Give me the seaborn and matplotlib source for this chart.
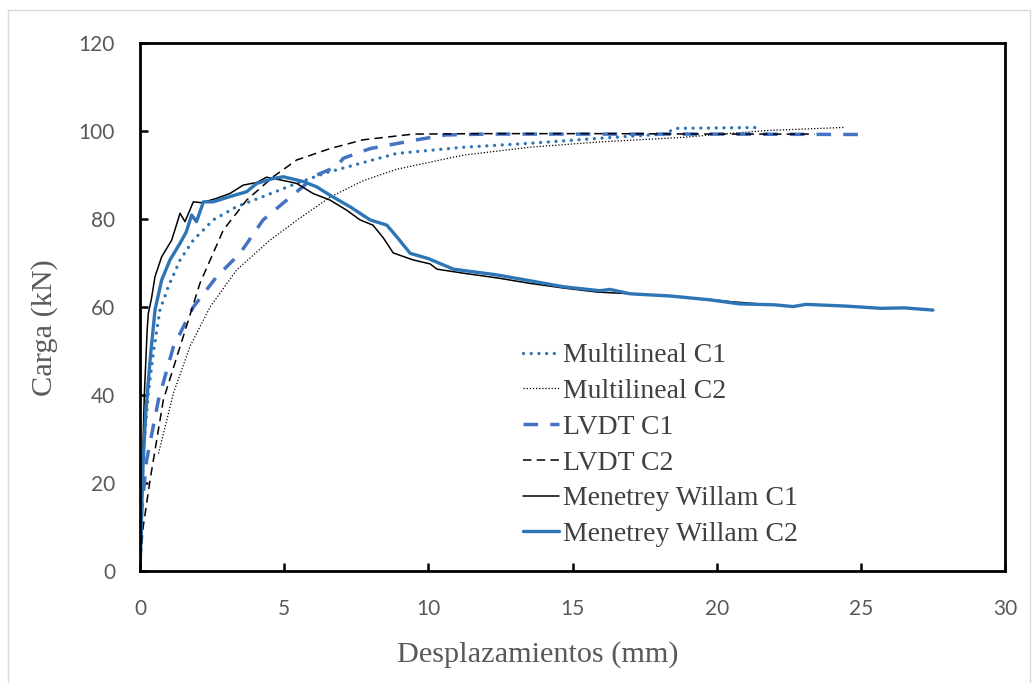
import matplotlib
matplotlib.use("Agg")
import matplotlib.pyplot as plt
import seaborn as sns
import numpy as np
from matplotlib.patches import Rectangle

# ---------------- data ----------------
ml_c1_x = [0, 0.05, 0.11, 0.29, 0.46, 0.69, 0.98, 1.39, 1.85, 2.54, 3.35, 4.27, 5.43, 6.5, 8.9, 11.2, 13.5, 15.84, 18.15, 18.6, 20.0, 21.5]
ml_c1_y = [0, 14, 26.7, 40.4, 49.5, 59.3, 64.6, 70.7, 75.2, 79.8, 82.8, 85.1, 88.1, 90.6, 94.9, 96.3, 97.2, 98.3, 99.3, 100.6, 100.7, 100.8]

ml_c2_x = [0.64, 1.16, 1.73, 2.43, 3.35, 4.51, 5.5, 6.6, 7.74, 8.9, 11.2, 13.5, 15.9, 18.7, 21.7, 24.4]
ml_c2_y = [26.7, 40.4, 51.0, 60.0, 68.4, 75.2, 80.0, 85.0, 88.7, 91.3, 94.5, 96.3, 97.5, 98.5, 100.1, 100.8]

lv_c1_x = [0, 0.06, 0.23, 0.64, 1.16, 1.85, 2.66, 3.47, 4.27, 5.09, 6.13, 6.82, 7.05, 7.98, 9.6, 10.6, 12, 15, 20, 25.1]
lv_c1_y = [0, 13.9, 25.2, 38.9, 51.0, 60.0, 66.9, 72.2, 79.8, 84.3, 90.0, 91.9, 93.8, 96.0, 98.0, 99.1, 99.3, 99.3, 99.3, 99.2]

lv_c2_x = [0, 0.11, 0.35, 0.81, 1.39, 2.08, 2.89, 3.7, 4.62, 5.43, 6.59, 7.74, 9.48, 12, 16, 20, 23.4]
lv_c2_y = [0, 10, 20.7, 38.9, 51.0, 65.4, 77.5, 84.3, 89.6, 93.4, 96.0, 98.0, 99.3, 99.4, 99.4, 99.3, 99.3]

mw_c1_x = [0, 0.06, 0.15, 0.25, 0.29, 0.4, 0.52, 0.75, 1.1, 1.39, 1.56, 1.85, 2.14, 2.66, 3.12, 3.58, 4.05, 4.39,
           4.86, 5.43, 6.0, 6.59, 7.17, 7.63, 8.08, 8.44, 8.78, 9.47, 10.06, 10.3, 11.2, 12.4, 13.5, 14.7, 15.85,
           17.0, 18.7, 19.8, 20.5, 21.5, 22.6]
mw_c1_y = [0, 18, 40, 55, 58.6, 62, 66.9, 71.4, 75.2, 81.3, 79.4, 83.9, 83.7, 84.7, 85.8, 87.7, 88.3, 89.5,
           88.9, 88.1, 85.8, 84.3, 82.0, 79.8, 78.6, 75.7, 72.3, 70.7, 69.8, 68.6, 67.7, 66.6, 65.4, 64.3, 63.4,
           63.0, 62.3, 61.7, 61.2, 60.7, 60.2]

mw_c2_x = [0, 0.05, 0.11, 0.2, 0.35, 0.52, 0.75, 1.04, 1.39, 1.6, 1.79, 1.96, 2.2, 2.54, 3.12, 3.7, 4.05, 4.62,
           4.97, 5.67, 6.13, 6.59, 7.28, 7.98, 8.56, 8.9, 9.37, 10.0, 10.4, 10.87, 12.37, 13.5, 14.68, 15.95,
           16.3, 17.0, 18.4, 19.8, 20.8, 22.0, 22.65, 23.1, 24.5, 25.7, 26.5, 27.5]
mw_c2_y = [0, 12, 25, 36, 48, 59.3, 66.1, 70.7, 74.5, 77, 80.9, 79.4, 83.9, 83.9, 85.1, 86.2, 88.1, 89.2,
           89.6, 88.5, 87.3, 85.4, 82.8, 79.8, 78.6, 76.0, 72.2, 71.0, 69.9, 68.6, 67.3, 66.0, 64.6, 63.7,
           64.0, 63.0, 62.5, 61.6, 60.7, 60.5, 60.1, 60.6, 60.2, 59.7, 59.8, 59.3]

labels = ["Multilineal C1", "Multilineal C2", "LVDT C1", "LVDT C2",
          "Menetrey Willam C1", "Menetrey Willam C2"]
x_ticks = [0, 5, 10, 15, 20, 25, 30]
y_ticks = [0, 20, 40, 60, 80, 100, 120]

# ---------------- style ----------------
sns.set_style("white")
plt.rcParams["font.family"] = ["Lato", "DejaVu Sans"]
SERIF = ["Liberation Serif", "DejaVu Serif"]

fig = plt.figure(figsize=(10.36, 6.83), dpi=100)
ax = fig.add_axes([140 / 1036, 1 - 571 / 683, 865 / 1036, 528 / 683])

# outer light border
fig.patches.append(Rectangle((8 / 1036, -0.01), 1022 / 1036, 1 - 10 / 683 + 0.01,
                             transform=fig.transFigure, fill=False,
                             edgecolor="#d9d9d9", linewidth=1.0))

blue = "#2E75B6"
blue2 = "#4472C4"

series = [
    (ml_c1_x, ml_c1_y, labels[0], dict(color=blue, linewidth=2.4, linestyle=(0, (0.01, 2.3)),
                                       dash_capstyle="round")),
    (ml_c2_x, ml_c2_y, labels[1], dict(color="black", linewidth=0.9, linestyle=(0, (1, 1.5)))),
    (lv_c1_x, lv_c1_y, labels[2], dict(color=blue2, linewidth=2.5, linestyle=(0, (4.2, 3.5)))),
    (lv_c2_x, lv_c2_y, labels[3], dict(color="black", linewidth=1.1, linestyle=(0, (5.5, 3.5)))),
    (mw_c1_x, mw_c1_y, labels[4], dict(color="black", linewidth=1.1, linestyle="-")),
    (mw_c2_x, mw_c2_y, labels[5], dict(color=blue, linewidth=2.4, linestyle="-")),
]

for xs, ys, lab, kw in series:
    sns.lineplot(x=np.array(xs), y=np.array(ys), ax=ax, label=lab, sort=False,
                 estimator=None, **kw)

ax.set_xlim(0, 30)
ax.set_ylim(0, 120)
ax.set_xticks(x_ticks)
ax.set_yticks(y_ticks)
ax.set_xticklabels([str(v) for v in x_ticks])
ax.set_yticklabels([str(v) for v in y_ticks])

for s in ax.spines.values():
    s.set_visible(True)
    s.set_color("black")
    s.set_linewidth(2.0)

ax.tick_params(axis="both", which="major", direction="in", length=6, width=1.8,
               colors="black", labelcolor="#595959", labelsize=15)
ax.tick_params(axis="x", pad=20)
ax.tick_params(axis="y", pad=18)
ax.tick_params(top=False, right=False, bottom=True, left=True)
for t in ax.get_xticklabels() + ax.get_yticklabels():
    t.set_family(["Lato", "DejaVu Sans"])

ax.set_xlabel("Desplazamientos (mm)", fontsize=21.8, color="#595959", family=SERIF,
              va="center", ha="center")
ax.xaxis.set_label_coords((538 - 140) / 865, (571 - 655) / 528)
ax.set_ylabel("Carga (kN)", fontsize=21.8, color="#595959", family=SERIF,
              va="center", ha="center")
ax.yaxis.set_label_coords((45 - 140) / 865, (571 - 328) / 528)

leg = ax.legend(loc="upper left", bbox_to_anchor=(0.43, 0.453), frameon=False,
                handlelength=1.3, handletextpad=0.12, labelspacing=0.37,
                prop={"family": SERIF, "size": 20}, borderaxespad=0)
for t in leg.get_texts():
    t.set_color("#404040")

fig.savefig("out.png", dpi=100, facecolor="white")
